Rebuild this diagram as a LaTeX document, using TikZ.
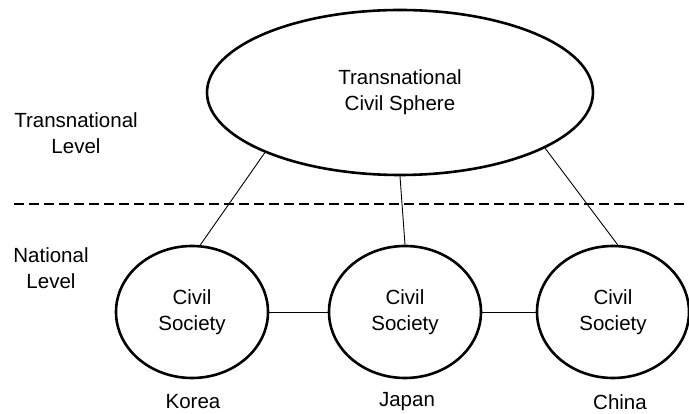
\documentclass[tikz,border=0pt]{standalone}
\usepackage{fontspec}
\setmainfont{Liberation Sans}
\usepackage{tikz}
\usetikzlibrary{shapes.geometric, positioning}

\begin{document}
\begin{tikzpicture}[x=1pt, y=1pt,
    every node/.style={font=\fontsize{20.5}{26}\selectfont, align=center},
    sphere/.style={ellipse, draw, line width=2.6pt, inner sep=0pt,
                   minimum width=386pt, minimum height=165pt},
    society/.style={ellipse, draw, line width=2.6pt, inner sep=0pt,
                    minimum width=152pt, minimum height=132pt},
    link/.style={line width=0.9pt}]

    % =================================================================
    % 1. KHUNG HÌNH
    % =================================================================
    \useasboundingbox (0,0) rectangle (689,414);

    % Đường ranh giới giữa hai cấp
    \coordinate (LineStart) at (14,210);
    \coordinate (LineEnd) at (689,210);
    \draw[line width=2.4pt, dash pattern=on 10pt off 5pt] (LineStart) -- (LineEnd);

    % =================================================================
    % 2. CÁC HÌNH ELIP
    % =================================================================
    \node[sphere] (tcs) at (400,321.5) {Transnational\\Civil Sphere};

    \node[society] (korea) at (192,102) {Civil\\Society};
    \node[society] (japan) at (405,102) {Civil\\Society};
    \node[society] (china) at (613,102) {Civil\\Society};

    % =================================================================
    % 3. CÁC ĐOẠN NỐI
    % =================================================================
    \draw[link] (tcs.204) -- (korea.83);
    \draw[link] (tcs.south) -- (japan.north);
    \draw[link] (tcs.339) -- (china.86);

    \draw[link] (korea.east) -- (japan.west);
    \draw[link] (japan.east) -- (china.west);

    % =================================================================
    % 4. NHÃN
    % =================================================================
    \node (trans) at (76,281) {Transnational\\Level};
    \node (nat) at (51,146) {National\\Level};

    \node (kr) at (193,12) {Korea};
    \node (jp) at (407,12) {Japan};
    \node (cn) at (620,12) {China};

\end{tikzpicture}
\end{document}
